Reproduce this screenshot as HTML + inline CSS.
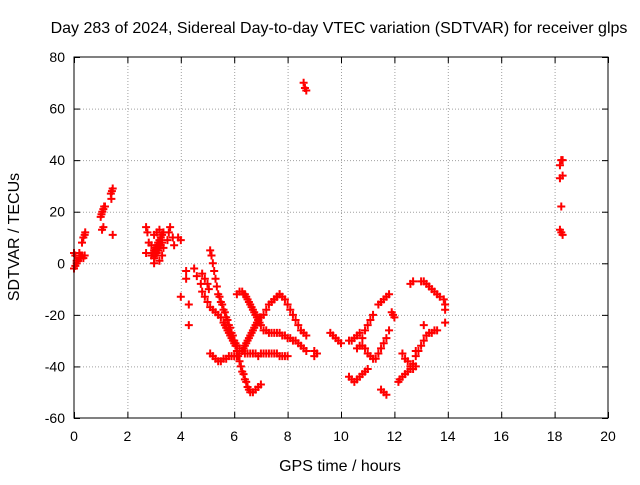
<!DOCTYPE html>
<html><head><meta charset="utf-8"><style>
body{margin:0;background:#fff;width:640px;height:480px;overflow:hidden}
svg text{font-family:"Liberation Sans",sans-serif;font-size:14px;fill:#000}
svg text.big{font-size:16px}
</style></head><body>
<svg id="chart" width="640" height="480" viewBox="0 0 640 480">
<rect width="640" height="480" fill="#fff"/>
<g id="grid"></g>
<g id="ticks"></g>
<g id="points"></g>
<rect x="74" y="57" width="534" height="361" fill="none" stroke="#000" stroke-width="1"/>
<text class="big" x="339" y="33" text-anchor="middle">Day 283 of 2024, Sidereal Day-to-day VTEC variation (SDTVAR) for receiver glps</text>
<text class="big" x="340" y="471" text-anchor="middle">GPS time / hours</text>
<text class="big" x="0" y="0" transform="translate(19,237) rotate(-90)" text-anchor="middle">SDTVAR / TECUs</text>
</svg>
<script>
const xTicks=[0,2,4,6,8,10,12,14,16,18,20];
const yTicks=[-60,-40,-20,0,20,40,60,80];
const t1x=[0,0.05,0.1,0.15,0.2,0.25,0.3,0.35,0.4,0,0.05,0.1,0.3,0.35,0.4,0.42,0.2,0.25];
const t1y=[-2,-1,0,1,2,3,3,2,3,4,3,1,8,10,11,12,4,2];
const t2x=[1.0,1.03,1.06,1.1,1.13,1.16,1.05,1.1,1.38,1.42,1.45,1.4,1.45];
const t2y=[18,19,20,21,22,22,13,14,27,28,29,25,11];
const t3x=[2.7,2.75,2.8,2.7,2.9,2.95,3.0,3.05,3.1,3.15,3.2,3.25,3.3,3.35,3.0,3.05,3.1,3.15,3.2,3.25,3.3,3.0,3.1,3.2,2.9,3.3,3.35,3.5,3.55,3.6,3.7,3.75,3.9,4.0,3.0,3.2];
const t3y=[14,12,8,4,3,4,5,6,7,8,9,10,11,12,2,3,4,5,6,7,8,11,12,13,7,3,6,9,12,14,10,7,10,9,0,1];
const t4x=[4.0,4.2,4.3,4.3,4.2,4.5,4.6,4.75,4.8,4.9,5.0,5.05];
const t4y=[-13,-6,-16,-24,-3,-2,-5,-8,-4,-6,-8,-10];
const t5x=[5.1,5.15,5.2,5.25,5.3,5.35,5.4,5.45,5.5,5.55,5.6,5.65,5.7,5.75,5.8,5.85,5.9,5.95,6.0,6.05,6.1,6.15,6.2,6.25,6.3,6.35,6.4,6.45,6.5,6.55,6.6,6.7,6.8,6.9,7.0];
const t5y=[5,3,0,-3,-6,-9,-12,-13,-15,-16,-18,-19,-21,-22,-24,-25,-27,-28,-30,-32,-34,-36,-38,-40,-42,-43,-45,-46,-48,-49,-50,-50,-49,-48,-47];
const t6x=[4.8,4.9,5.0,5.1,5.2,5.3,5.4,5.5,5.6,5.65,5.7,5.75,5.8,5.85,5.9,5.95,6.0,6.05,6.1,6.2,6.3,6.4,6.5,6.6,6.7,6.8,6.9,7.0,7.1,7.2,7.3,7.4,7.5,7.6,7.7,7.8,7.9,8.0];
const t6y=[-11,-13,-15,-17,-18,-19,-20,-21,-23,-24,-25,-26,-27,-28,-29,-30,-31,-31,-32,-33,-34,-35,-35,-35,-35,-35,-36,-35,-35,-35,-35,-35,-35,-35,-36,-36,-36,-36];
const t7x=[5.1,5.2,5.3,5.4,5.5,5.6,5.7,5.8,5.9,6.0,6.1,6.2,6.3,6.35,6.4,6.45,6.5,6.55,6.6,6.65,6.7,6.75,6.8,6.85,6.9,6.95,7.0,7.1,7.2,7.3,7.4,7.5,7.6,7.7];
const t7y=[-35,-36,-37,-38,-38,-37,-37,-36,-36,-36,-36,-35,-34,-33,-32,-31,-30,-29,-28,-27,-26,-25,-24,-23,-22,-21,-21,-20,-18,-16,-15,-14,-13,-12];
const t8x=[6.1,6.2,6.3,6.35,6.4,6.45,6.5,6.55,6.6,6.65,6.7,6.75,6.8,6.85,6.9,6.95,7.0,7.1,7.2,7.3,7.4,7.5,7.6,7.7,7.8,7.9,8.0,8.1,8.2,8.3,8.4,8.5,8.6,8.7];
const t8y=[-12,-11,-11,-12,-12,-13,-14,-15,-16,-17,-18,-19,-20,-21,-22,-23,-24,-26,-26,-27,-27,-27,-27,-27,-28,-28,-29,-29,-30,-30,-31,-32,-33,-34];
const t9x=[7.5,7.6,7.7,7.8,7.9,8.0,8.1,8.2,8.3,8.4,8.5,8.6,8.7,8.6,8.65,8.7];
const t9y=[-14,-13,-12,-13,-14,-16,-18,-20,-22,-24,-26,-27,-28,70,68,67];
const t10x=[9.0,9.0,9.1,9.6,9.7,9.8,9.9,10.0,10.3,10.4,10.5,10.6,10.7,10.8,10.9,11.0,11.1,11.2,10.3,10.4,10.5,10.6,10.7,10.8,10.9,11.0];
const t10y=[-34,-36,-35,-27,-28,-29,-30,-31,-30,-30,-29,-28,-27,-29,-26,-24,-22,-20,-44,-45,-46,-45,-44,-43,-42,-41];
const t11x=[10.6,10.7,10.8,10.9,11.0,11.1,11.2,11.3,11.4,11.5,11.6,11.7,11.8,11.9,11.4,11.5,11.6,11.7,11.8,11.5,11.6,11.7];
const t11y=[-33,-32,-32,-33,-35,-36,-37,-37,-35,-33,-31,-29,-26,-19,-16,-15,-14,-13,-12,-49,-50,-51];
const t12x=[11.95,12.0,12.15,12.2,12.3,12.4,12.5,12.6,12.7,12.8,12.9,13.0,13.1,13.2,13.3,13.4,13.5,13.6,12.3,12.4,12.5,12.6,12.7,12.8];
const t12y=[-20,-21,-46,-45,-44,-43,-42,-41,-39,-36,-34,-32,-30,-28,-27,-27,-26,-26,-35,-37,-38,-40,-41,-40];
const t13x=[12.6,12.7,13.0,13.1,13.2,13.3,13.4,13.5,13.6,13.7,13.85,13.9,13.9,13.9,13.1,12.8];
const t13y=[-8,-7,-7,-7,-8,-9,-10,-11,-12,-13,-14,-16,-18,-23,-24,-34];
const t14x=[18.2,18.25,18.3,18.2,18.3,18.25,18.2,18.25,18.3];
const t14y=[38,40,40,33,34,22,13,12,11];
const seriesX=[t1x,t2x,t3x,t4x,t5x,t6x,t7x,t8x,t9x,t10x,t11x,t12x,t13x,t14x];
const seriesY=[t1y,t2y,t3y,t4y,t5y,t6y,t7y,t8y,t9y,t10y,t11y,t12y,t13y,t14y];
const X0=74,X1=608,Y0=418,Y1=57;
function sx(v){return X0+(v-0)/(20-0)*(X1-X0);}
function sy(v){return Y0-(v+60)/140*(Y0-Y1);}
const NS="http://www.w3.org/2000/svg";
const grid=document.getElementById('grid'),ticks=document.getElementById('ticks'),pts=document.getElementById('points');
function mk(tag,a,parent){const e=document.createElementNS(NS,tag);for(const k in a)e.setAttribute(k,a[k]);parent.appendChild(e);return e;}
xTicks.forEach(v=>{const x=sx(v)+0.5;
 if(v>0&&v<20){const g=mk('line',{x1:x,x2:x,y1:Y1,y2:Y0,stroke:'#a0a0a0','stroke-dasharray':'1,2'},grid);
 
 }
 const t=mk('text',{x:sx(v),y:Y0+23,'text-anchor':'middle'},ticks);t.textContent=v;
 
 
 mk('line',{x1:x,x2:x,y1:Y0,y2:Y0-6,stroke:'#000'},ticks);mk('line',{x1:x,x2:x,y1:Y1,y2:Y1+6,stroke:'#000'},ticks);});
yTicks.forEach(v=>{const y=sy(v)+0.5;
 if(v>-60&&v<80){const g=mk('line',{x1:X0,x2:X1,y1:y,y2:y,stroke:'#a0a0a0','stroke-dasharray':'1,2'},grid);
 
 }
 const t=mk('text',{x:X0-9,y:sy(v)+5,'text-anchor':'end'},ticks);t.textContent=v;
 
 
 mk('line',{x1:X0,x2:X0+6,y1:y,y2:y,stroke:'#000'},ticks);mk('line',{x1:X1,x2:X1-6,y1:y,y2:y,stroke:'#000'},ticks);});
seriesX.forEach((xs,s)=>{xs.forEach((xv,i)=>{const cx=sx(xv),cy=sy(seriesY[s][i]);
 const p=mk('path',{d:`M${cx-4},${cy}H${cx+4}M${cx},${cy-4}V${cy+4}`,stroke:'#f00','stroke-width':2,fill:'none'},pts);
 
 });});
</script>
</body></html>
